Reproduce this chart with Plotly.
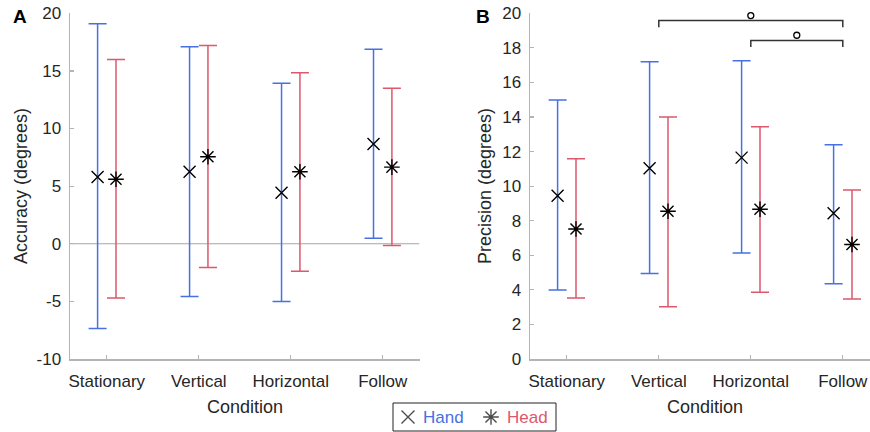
import plotly.graph_objects as go

conditions = ["Stationary", "Vertical", "Horizontal", "Follow"]
xpos = [1, 2, 3, 4]
acc_ticks = [-10, -5, 0, 5, 10, 15, 20]
acc_ticklabels = ["-10", "-5", "0", "5", "10", "15", "20"]
prec_ticks = list(range(0, 21, 2))

# Panel A: Accuracy (degrees)
acc_hand_mean = [5.8, 6.25, 4.42, 8.65]
acc_hand_upper = [19.09, 17.1, 13.93, 16.88]
acc_hand_lower = [-7.35, -4.57, -5.0, 0.48]
acc_head_mean = [5.6, 7.55, 6.25, 6.65]
acc_head_upper = [15.98, 17.2, 14.85, 13.5]
acc_head_lower = [-4.71, -2.07, -2.39, -0.16]

# Panel B: Precision (degrees)
prec_hand_mean = [9.45, 11.03, 11.65, 8.43]
prec_hand_upper = [14.99, 17.19, 17.25, 12.4]
prec_hand_lower = [3.99, 4.94, 6.13, 4.36]
prec_head_mean = [7.52, 8.55, 8.66, 6.62]
prec_head_upper = [11.59, 14.0, 13.44, 9.78]
prec_head_lower = [3.53, 3.03, 3.86, 3.47]

# significance brackets in panel B: (start, end, bar level, leg end level, marker level)
sig_brackets = [(2, 4, 19.58, 19.2, 19.87), (3, 4, 18.42, 18.05, 18.73)]

series_names = ["Hand", "Head"]

BLUE = "#4670e3"
RED = "#dc586c"
AXIS = "#b4b4b4"
TXT = "#262626"
FONT = "Liberation Sans, Arial, sans-serif"
OFF = 0.1

fig = go.Figure()


def add_series(xa, ya, mean, upper, lower, color, symbol, size, offset):
    xs = [x + offset for x in xpos]
    fig.add_trace(go.Scatter(
        x=xs, y=mean, xaxis=xa, yaxis=ya, mode="markers", cliponaxis=False,
        marker=dict(symbol=symbol, size=size, color="black",
                    line=dict(color="black", width=1.4)),
        error_y=dict(type="data", symmetric=False,
                     array=[u - m for u, m in zip(upper, mean)],
                     arrayminus=[m - l for m, l in zip(mean, lower)],
                     color=color, thickness=1.5, width=9),
        showlegend=False, hoverinfo="skip"))


# zero line in panel A
fig.add_trace(go.Scatter(x=[0.6, 4.4], y=[0, 0], xaxis="x", yaxis="y", mode="lines",
                         line=dict(color="#a6a6a6", width=1.2), showlegend=False, hoverinfo="skip"))

add_series("x", "y", acc_hand_mean, acc_hand_upper, acc_hand_lower, BLUE, "x-thin-open", 12, -OFF)
add_series("x", "y", acc_head_mean, acc_head_upper, acc_head_lower, RED, "asterisk-open", 13, OFF)
add_series("x2", "y2", prec_hand_mean, prec_hand_upper, prec_hand_lower, BLUE, "x-thin-open", 12, -OFF)
add_series("x2", "y2", prec_head_mean, prec_head_upper, prec_head_lower, RED, "asterisk-open", 13, OFF)

# brackets
for (a, b, lvl, leg, mk) in sig_brackets:
    fig.add_trace(go.Scatter(x=[a, a, b, b], y=[leg, lvl, lvl, leg], xaxis="x2", yaxis="y2",
                             mode="lines", line=dict(color="#333333", width=1.5), cliponaxis=False,
                             showlegend=False, hoverinfo="skip"))
    fig.add_trace(go.Scatter(x=[(a + b) / 2], y=[mk], xaxis="x2", yaxis="y2", mode="markers",
                             cliponaxis=False,
                             marker=dict(symbol="circle-open", size=6, color="black",
                                         line=dict(color="black", width=1.3)),
                             showlegend=False, hoverinfo="skip"))

W, H = 870, 432

# legend box (drawn on a hidden helper axis measured in pixels)
LX0, LX1, LY0, LY1 = 393, 556, 403, 431
fig.add_trace(go.Scatter(x=[408, 491], y=[417, 417], xaxis="x3", yaxis="y3", mode="markers",
                         cliponaxis=False,
                         marker=dict(symbol=["x-thin-open", "asterisk-open"], size=[13, 13], color="black",
                                     line=dict(color="black", width=1.4)),
                         showlegend=False, hoverinfo="skip"))

ydom = [(H - 359) / H, (H - 13.3) / H]
axis_common = dict(showline=True, linecolor=AXIS, linewidth=1.5, ticks="inside", ticklen=4,
                   tickcolor=AXIS, tickwidth=1.2, showgrid=False, zeroline=False,
                   tickfont=dict(family=FONT, size=17, color=TXT), automargin=False)
hidden = dict(visible=False, showgrid=False, zeroline=False, fixedrange=True)

fig.update_layout(
    width=W, height=H, margin=dict(l=0, r=0, t=0, b=0),
    paper_bgcolor="white", plot_bgcolor="white", showlegend=False,
    font=dict(family=FONT, size=17, color=TXT),
    xaxis=dict(domain=[70 / W, 419.5 / W], range=[0.6, 4.4], tickvals=xpos, ticktext=conditions,
               anchor="y", ticklabelstandoff=6, **axis_common),
    yaxis=dict(domain=ydom, range=[-10, 20], tickvals=acc_ticks, ticktext=acc_ticklabels,
               anchor="x", ticklabelstandoff=4, **axis_common),
    xaxis2=dict(domain=[530 / W, 1.0], range=[0.6, 0.6 + 340 / 92], tickvals=xpos, ticktext=conditions,
                anchor="y2", ticklabelstandoff=6, **axis_common),
    yaxis2=dict(domain=ydom, range=[0, 20], tickvals=prec_ticks,
                anchor="x2", ticklabelstandoff=4, **axis_common),
    xaxis3=dict(domain=[LX0 / W, LX1 / W], range=[LX0, LX1], anchor="y3", **hidden),
    yaxis3=dict(domain=[(H - LY1) / H, (H - LY0) / H], range=[LY1, LY0], anchor="x3", **hidden),
    shapes=[dict(type="rect", xref="paper", yref="paper",
                 x0=LX0 / W, x1=LX1 / W, y0=(H - LY1) / H, y1=(H - LY0) / H,
                 line=dict(color="#222222", width=1), fillcolor="rgba(0,0,0,0)")],
    annotations=[
        dict(text=series_names[0], x=421 / W, y=(H - 417) / H, xref="paper", yref="paper",
             showarrow=False, font=dict(size=17, color=BLUE), xanchor="left", yanchor="middle"),
        dict(text=series_names[1], x=505 / W, y=(H - 417) / H, xref="paper", yref="paper",
             showarrow=False, font=dict(size=17, color=RED), xanchor="left", yanchor="middle"),
        dict(text="Condition", x=244.5 / W, y=(H - 407) / H, xref="paper", yref="paper",
             showarrow=False, font=dict(size=18, color=TXT), xanchor="center", yanchor="middle"),
        dict(text="Condition", x=705 / W, y=(H - 407) / H, xref="paper", yref="paper",
             showarrow=False, font=dict(size=18, color=TXT), xanchor="center", yanchor="middle"),
        dict(text="Accuracy (degrees)", x=21 / W, y=(H - 186) / H, xref="paper", yref="paper",
             showarrow=False, textangle=-90, font=dict(size=18, color=TXT),
             xanchor="center", yanchor="middle"),
        dict(text="Precision (degrees)", x=485 / W, y=(H - 186) / H, xref="paper", yref="paper",
             showarrow=False, textangle=-90, font=dict(size=18, color=TXT),
             xanchor="center", yanchor="middle"),
        dict(text="<b>A</b>", x=20 / W, y=(H - 16) / H, xref="paper", yref="paper",
             showarrow=False, font=dict(size=19, color="black"), xanchor="center", yanchor="middle"),
        dict(text="<b>B</b>", x=483 / W, y=(H - 16) / H, xref="paper", yref="paper",
             showarrow=False, font=dict(size=19, color="black"), xanchor="center", yanchor="middle"),
    ],
)

fig.write_html("out.html", config={"displayModeBar": False, "staticPlot": True},
               post_script="document.body.style.margin='0';document.body.style.overflow='hidden';")
